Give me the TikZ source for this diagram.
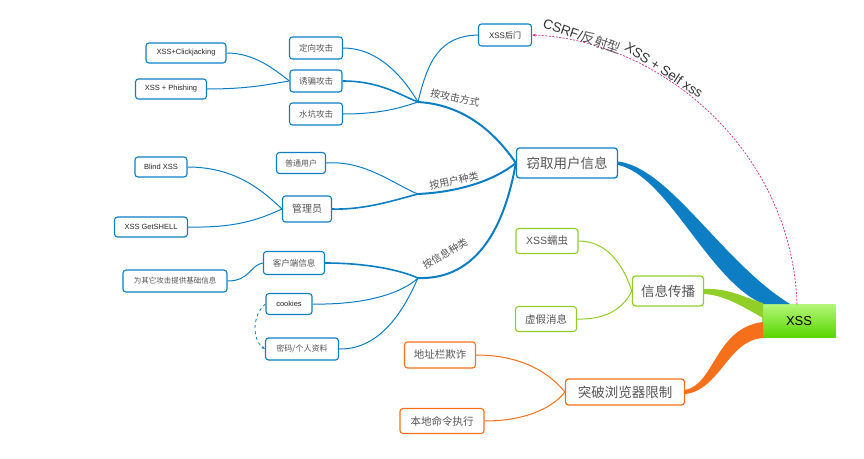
\documentclass[tikz,border=0pt]{standalone}
\usepackage{fontspec}
\setmainfont{Liberation Sans}
\newfontfamily\cjk{Noto Sans CJK SC}
\usetikzlibrary{positioning, calc, arrows.meta}

\definecolor{xblue}{RGB}{14,126,196}
\definecolor{xgreen}{RGB}{146,206,40}
\definecolor{xorange}{RGB}{246,112,28}
\definecolor{xpink}{RGB}{212,40,150}
\definecolor{xtext}{RGB}{85,85,85}
\definecolor{xlimetop}{RGB}{178,246,118}
\definecolor{xlimebot}{RGB}{88,214,0}

\begin{document}
\begin{tikzpicture}[x=1pt, y=-1pt,
  box/.style={draw, rounded corners=3pt, line width=1.1pt, fill=white, inner sep=0pt, minimum height=21pt, text=xtext},
  bluebox/.style={box, draw=xblue},
  greenbox/.style={box, draw=xgreen},
  orangebox/.style={box, draw=xorange},
  mainbox/.style={minimum height=30pt, line width=1.3pt, font=\cjk\fontsize{13.5}{14}\selectfont},
  wd/.style={minimum width=#1},
  cn/.style={font=\cjk\fontsize{#1}{#1}\selectfont},
  en/.style={font=\fontsize{#1}{#1}\selectfont, text=black!85},
  branch/.style={font=\cjk\fontsize{10}{10}\selectfont, text=xtext, inner sep=0pt},
  link/.style={line width=1pt},
]
\useasboundingbox (0,0) rectangle (864,458);

% Root and main topics
\node[minimum width=73pt, minimum height=33pt, top color=xlimetop, bottom color=xlimebot,
      font=\fontsize{13}{13}\selectfont] (xss) at (799,321) {XSS};
\node[bluebox, mainbox, wd=101pt] (steal) at (567,163) {窃取用户信息};
\node[greenbox, mainbox, wd=71pt] (spread) at (668,291) {信息传播};
\node[orangebox, mainbox, wd=119pt, minimum height=26pt] (break) at (625,392) {突破浏览器限制};

% Tapered main branches
\fill[xblue] ($(steal.east)+(0,-1.5)$) .. controls (670,168) and (722,262) .. (790,304)
  -- (763,304) .. controls (708,280) and (668,176) .. ($(steal.east)+(0,2)$) -- cycle;
\fill[xgreen] ($(spread.east)+(0,-2)$) .. controls (730,288) and (745,298) .. (763,303)
  -- (763,318) .. controls (745,308) and (725,295) .. ($(spread.east)+(0,3)$) -- cycle;
\fill[xorange] ($(break.east)+(0,-2)$) .. controls (715,384) and (715,328) .. (763,322)
  -- (763,338) .. controls (728,340) and (720,390) .. ($(break.east)+(0,2)$) -- cycle;

% Steal branch: by attack type
\coordinate (jattack) at (418,102);
\node[bluebox, wd=53pt, minimum height=22pt, en=8] (back) at (505,35) {XSS{\cjk 后门}};
\node[bluebox, wd=53pt, minimum height=22pt, cn=8.5] (directed) at (316,48) {定向攻击};
\node[bluebox, wd=52pt, minimum height=22pt, cn=8.5] (lure) at (316,81) {诱骗攻击};
\node[bluebox, wd=53pt, minimum height=22pt, cn=8.5] (water) at (316,114) {水坑攻击};
\node[bluebox, wd=80pt, minimum height=20pt, en=7.5] (click) at (186,53) {XSS+Clickjacking};
\node[bluebox, wd=71pt, minimum height=20pt, en=7.5] (phish) at (171,89) {XSS + Phishing};
\node[branch, rotate=-12] (lbattack) at (455,98) {按攻击方式};

\draw[xblue, line width=2pt] (jattack) .. controls (470,105) and (500,140) .. (steal.west);
\draw[xblue, link] (jattack) .. controls (428,60) and (440,36) .. (back.west);
\draw[xblue, link] (jattack) .. controls (405,80) and (380,48) .. (directed.east);
\draw[xblue, line width=1.6pt] (jattack) .. controls (400,95) and (380,81) .. (lure.east);
\draw[xblue, link] (jattack) .. controls (400,108) and (380,114) .. (water.east);
\draw[xblue, link] (lure.west) .. controls (275,70) and (255,53) .. (click.east);
\draw[xblue, link] (lure.west) .. controls (270,84) and (250,89) .. (phish.east);

% Steal branch: by user type
\coordinate (juser) at (418,194);
\node[bluebox, wd=49pt, minimum height=21pt, cn=8] (normal) at (301,163) {普通用户};
\node[bluebox, wd=49pt, minimum height=26pt, cn=10] (admin) at (307,209) {管理员};
\node[bluebox, wd=52pt, minimum height=20pt, en=7.5] (blind) at (161,167) {Blind XSS};
\node[bluebox, wd=73pt, minimum height=20pt, en=7.5] (shell) at (151,227) {XSS GetSHELL};
\node[branch, rotate=12] (lbuser) at (454,181) {按用户种类};

\draw[xblue, line width=2pt] (juser) .. controls (460,192) and (495,180) .. (steal.west);
\draw[xblue, link] (juser) .. controls (395,185) and (365,160) .. (normal.east);
\draw[xblue, line width=1.6pt] (juser) .. controls (395,200) and (365,210) .. (admin.east);
\draw[xblue, link] (admin.west) .. controls (262,190) and (235,167) .. (blind.east);
\draw[xblue, link] (admin.west) .. controls (258,220) and (235,228) .. (shell.east);

% Steal branch: by information type
\coordinate (jinfo) at (418,278);
\node[bluebox, wd=61pt, minimum height=23pt, cn=8.5] (client) at (294,263) {客户端信息};
\node[bluebox, wd=104pt, minimum height=22pt, cn=7.5] (basic) at (175,281) {为其它攻击提供基础信息};
\node[bluebox, wd=46pt, minimum height=21pt, en=7.5] (cookies) at (289,304) {cookies};
\node[bluebox, wd=73pt, minimum height=22pt, cn=8] (pwd) at (302,349) {密码/个人资料};
\node[branch, rotate=30] (lbinfo) at (445,254) {按信息种类};

\draw[xblue, line width=2pt] (jinfo) .. controls (478,280) and (505,225) .. (steal.west);
\draw[xblue, line width=1.6pt] (jinfo) .. controls (395,268) and (360,263) .. (client.east);
\draw[xblue, link] (jinfo) .. controls (400,295) and (360,305) .. (cookies.east);
\draw[xblue, link] (jinfo) .. controls (408,300) and (385,350) .. (pwd.east);
\draw[xblue, link] (client.west) .. controls (250,265) and (250,281) .. (basic.east);
\draw[xblue, line width=0.8pt, dashed, -{Stealth[length=4pt]}]
  (cookies.west) .. controls (252,315) and (252,340) .. (pwd.west);

% Spread branch
\node[greenbox, wd=62pt, minimum height=25pt, cn=10.5] (worm) at (547,241) {{\fontspec{Liberation Sans}XSS}蠕虫};
\node[greenbox, wd=61pt, minimum height=25pt, cn=10.5] (fake) at (546,319) {虚假消息};
\draw[xgreen, link] (spread.west) .. controls (625,270) and (610,241) .. (worm.east);
\draw[xgreen, link] (spread.west) .. controls (625,305) and (610,320) .. (fake.east);

% Browser branch
\node[orangebox, wd=71pt, minimum height=26pt, cn=10.5] (addr) at (440,355) {地址栏欺诈};
\node[orangebox, wd=84pt, minimum height=25pt, cn=10.5] (local) at (442,421) {本地命令执行};
\draw[xorange, link] (break.west) .. controls (555,380) and (530,355) .. (addr.east);
\draw[xorange, link] (break.west) .. controls (555,405) and (530,421) .. (local.east);

% CSRF link back to the backdoor
\draw[xpink, line width=0.7pt, dash pattern=on 2pt off 1.5pt, -{Stealth[length=4pt]}]
  ($(xss.north)+(-2,0)$) .. controls (792,150) and (660,40) .. (back.east);
\node[font=\fontsize{13.5}{13.5}\selectfont, text=black!80, rotate=-19, inner sep=0pt] (lbcsrf) at (582,36) {CSRF/{\cjk\color{xtext}反射型}};
\node[font=\fontsize{13.5}{13.5}\selectfont, text=black!80, rotate=-33, inner sep=0pt] (lbself) at (664,70) {XSS + Self xss};
\end{tikzpicture}
\end{document}
